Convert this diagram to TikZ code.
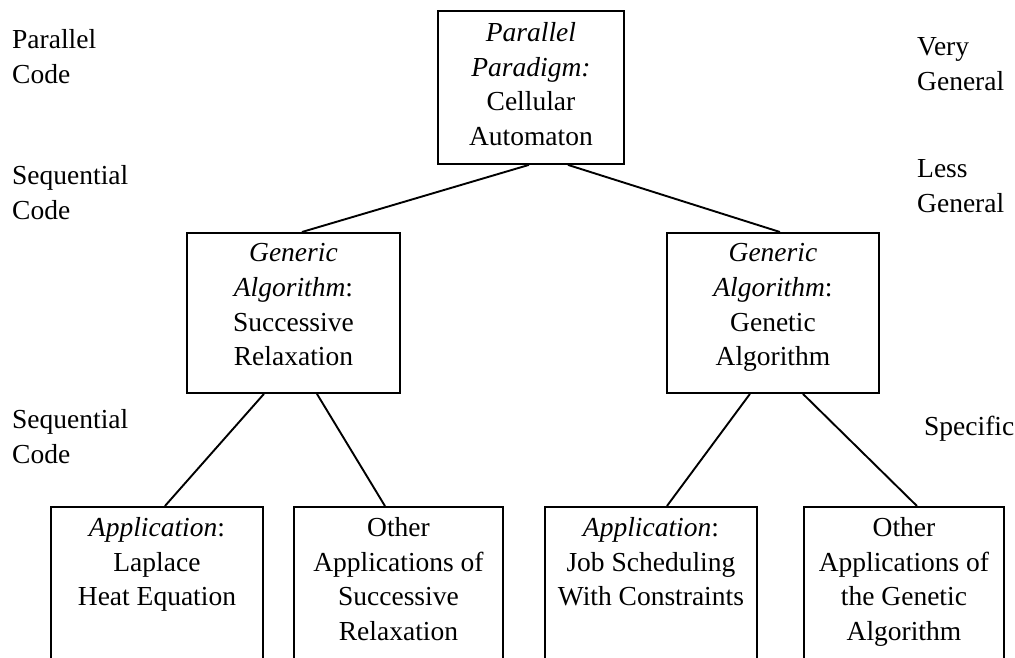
\documentclass[tikz,border=0pt]{standalone}
\usepackage{fontspec}
\setmainfont{Liberation Serif}
\begin{document}
\begin{tikzpicture}[x=1pt,y=-1pt,
  every node/.style={font=\fontsize{27.5}{34.8}\selectfont, inner sep=0pt},
  box/.style={draw, line width=1.9pt, anchor=north west, inner sep=0pt},
  txt/.style={anchor=north, align=center},
  lbl/.style={anchor=north west, align=left},
  link/.style={line width=1.9pt}]
\clip (0,0) rectangle (1015,658);
% boxes
\node[box, minimum width=186pt, minimum height=153pt] (top) at (437,10) {};
\node[box, minimum width=213pt, minimum height=160pt] (L) at (186,232) {};
\node[box, minimum width=212pt, minimum height=160pt] (R) at (666,232) {};
\node[box, minimum width=212pt, minimum height=220pt] (B1) at (50,506) {};
\node[box, minimum width=209pt, minimum height=220pt] (B2) at (293,506) {};
\node[box, minimum width=212pt, minimum height=220pt] (B3) at (544,506) {};
\node[box, minimum width=200pt, minimum height=220pt] (B4) at (803,506) {};
% texts
\node[txt] (ttop) at ([yshift=-12pt]top.north) {\textit{Parallel}\\\textit{Paradigm:}\\Cellular\\Automaton};
\node[txt] (tL) at ([yshift=-11pt]L.north) {\textit{Generic}\\\textit{Algorithm}:\\Successive\\Relaxation};
\node[txt] (tR) at ([yshift=-11pt]R.north) {\textit{Generic}\\\textit{Algorithm}:\\Genetic\\Algorithm};
\node[txt] (tB1) at ([yshift=-11pt]B1.north) {\textit{Application}:\\Laplace\\Heat Equation};
\node[txt] (tB2) at ([yshift=-11pt]B2.north) {Other\\Applications of\\Successive\\Relaxation};
\node[txt] (tB3) at ([yshift=-11pt]B3.north) {\textit{Application}:\\Job Scheduling\\With Constraints};
\node[txt] (tB4) at ([yshift=-11pt]B4.north) {Other\\Applications of\\the Genetic\\Algorithm};
% side labels
\node[lbl] (l1) at (12,29) {Parallel\\Code};
\node[lbl] (l2) at (12,165) {Sequential\\Code};
\node[lbl] (l3) at (12,409) {Sequential\\Code};
\node[lbl] (r1) at (917,37) {Very\\General};
\node[lbl] (r2) at (917,159) {Less\\General};
\node[lbl] (r3) at (924,416) {Specific};
% connectors
\draw[link] ([xshift=-2pt]top.south) -- ([xshift=8.5pt]L.north);
\draw[link] ([xshift=37pt]top.south) -- ([xshift=7pt]R.north);
\draw[link] ([xshift=-29.5pt]L.south) -- ([xshift=8pt]B1.north);
\draw[link] ([xshift=23.5pt]L.south) -- ([xshift=-13.5pt]B2.north);
\draw[link] ([xshift=-23pt]R.south) -- ([xshift=16pt]B3.north);
\draw[link] ([xshift=30pt]R.south) -- ([xshift=13pt]B4.north);
\end{tikzpicture}
\end{document}
